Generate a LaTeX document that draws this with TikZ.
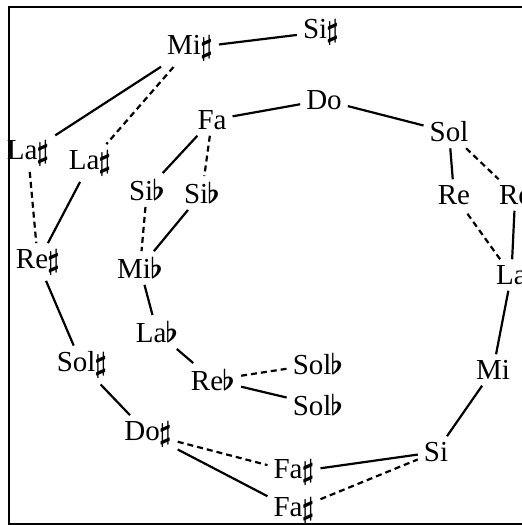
\documentclass[tikz,border=0pt]{standalone}
\usepackage{amsmath}
\usepackage{fontspec}
\setmainfont{Liberation Serif}
\usepackage{tikz}
\newcommand{\Shp}{\kern-1pt\raisebox{-1pt}{\scalebox{1.15}{$\boldsymbol{\sharp}$}}}
\newcommand{\Flt}{\kern-1pt\scalebox{1.15}{$\boldsymbol{\flat}$}}

\begin{document}
\begin{tikzpicture}[x=1pt,y=-1pt,
		every node/.style={font=\fontsize{29}{32}\selectfont,inner sep=5pt},
		enh/.style={dashed,dash pattern=on 6pt off 4pt},
		every path/.style={line width=2.2pt}]
		\useasboundingbox (0,0) rectangle (522,525);
		\draw[line width=2pt] (530,6.5) -- (8.5,6.5) -- (8.5,523.5) -- (530,523.5);
		% upper ring
		\node (mis) at (190,48) {Mi\Shp};
		\node (sis) at (321,32) {Si\Shp};
		\node (lasa) at (28,153) {La\Shp};
		\node (lasb) at (90,163) {La\Shp};
		\node (res) at (38,262) {Re\Shp};
		\node (sols) at (82,365) {Sol\Shp};
		\node (dos) at (148,434) {Do\Shp};
		\node (fasa) at (294,472) {Fa\Shp};
		\node (fasb) at (294,510) {Fa\Shp};
		\node (si) at (436,452) {Si};
		\node (mi) at (493,370) {Mi};
		\node[anchor=west] (la) at (490,275) {La};
		\node[anchor=west] (reo) at (493,195) {Re};
		\node (re) at (454,195) {Re};
		\node (sol) at (449,132) {Sol};
		\node (do) at (324,100) {Do};
		\node (fa) at (212,120) {Fa};
		% flats
		\node (siba) at (147,190) {Si\Flt};
		\node (sibb) at (202,193) {Si\Flt};
		\node (mib) at (140,268) {Mi\Flt};
		\node (lab) at (157,332) {La\Flt};
		\node (reb) at (213,380) {Re\Flt};
		\node (solba) at (318,364) {Sol\Flt};
		\node (solbb) at (318,405) {Sol\Flt};
		\draw (mis) -- (sis);
		\draw (mis) -- (lasa);
		\draw[enh] (mis) -- (lasb);
		\draw[enh] (lasa) -- (res);
		\draw (lasb) -- (res);
		\draw (res) -- (sols);
		\draw (sols) -- (dos);
		\draw[enh] (dos) -- (fasa);
		\draw (dos) -- (fasb);
		\draw (fasa) -- (si);
		\draw[enh] (fasb) -- (si);
		\draw (si) -- (mi);
		\draw (mi) -- (la);
		\draw (la) -- (reo);
		\draw[enh] (la) -- (re);
		\draw (sol) -- (re);
		\draw[enh] (sol) -- (reo);
		\draw (do) -- (sol);
		\draw (fa) -- (do);
		\draw (fa) -- (siba);
		\draw[enh] (fa) -- (sibb);
		\draw[enh] (siba) -- (mib);
		\draw (sibb) -- (mib);
		\draw (mib) -- (lab);
		\draw (lab) -- (reb);
		\draw[enh] (reb) -- (solba);
		\draw (reb) -- (solbb);
	\end{tikzpicture}
\end{document}
